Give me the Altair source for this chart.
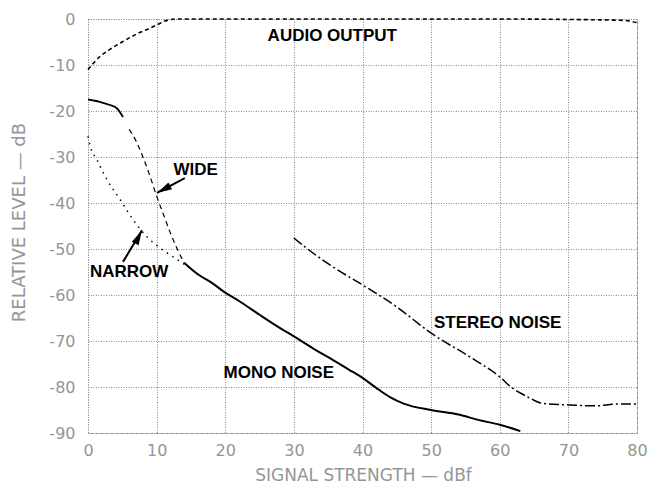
import altair as alt
import pandas as pd

# ---- data ----
audio_x = [0, 0.8, 1.7, 3.2, 5.1, 7.3, 9, 10, 11.5, 13, 20, 30, 40, 50, 60, 70, 78, 80]
audio_y = [-11, -9.6, -8.2, -6.6, -4.9, -3.1, -2, -1.3, -0.3, 0, 0, 0, 0, 0, 0, -0.1, -0.3, -0.8]

wide_solid_x = [0, 1.7, 3.2, 4.2, 5.1]
wide_solid_y = [-17.5, -18, -18.7, -19.4, -21.3]

wide_dash_x = [6, 7, 8, 9, 10, 11, 12, 13, 14]
wide_dash_y = [-24, -26.5, -30, -34, -38.5, -42.5, -46.5, -50, -53]

narrow_x = [0, 0.3, 1.3, 2.8, 4.7, 6.6, 8.5, 10.5, 12, 13.5, 15]
narrow_y = [-25.5, -27.5, -30.6, -35, -39.3, -43.7, -47.2, -49.8, -51.3, -52.8, -54.3]

mono_x = [14, 16, 18, 20, 22, 25, 28, 30, 33, 35, 38, 40, 42, 44, 46, 50, 54, 57, 60, 63]
mono_y = [-53, -55.5, -57.3, -59.5, -61.3, -64.3, -67.2, -69, -71.8, -73.5, -76.2, -78,
          -80.2, -82.2, -83.6, -85, -86, -87.2, -88.2, -89.6]

stereo_x = [30, 32, 35.7, 40, 45, 50, 55.7, 60, 61.8, 63, 64.5, 66, 70, 74, 77, 80]
stereo_y = [-47.6, -50, -53.9, -57.8, -62.6, -68.3, -73.5, -77.8, -80.2, -81.3, -82.5,
            -83.5, -83.9, -84.1, -83.7, -83.7]

label_text = ["AUDIO OUTPUT", "WIDE", "NARROW", "MONO NOISE", "STEREO NOISE"]
label_x = [35.6, 15.7, 6.0, 27.8, 59.7]
label_y = [-3.7, -32.8, -54.9, -77.0, -66.1]

# arrows: tail -> tip
wide_arrow_tail = (14.1, -34.6)
wide_arrow_tip = (10.05, -37.8)
narrow_arrow_tail = (5.1, -52.8)
narrow_arrow_tip = (7.87, -45.9)

x_ticks = [0, 10, 20, 30, 40, 50, 60, 70, 80]
y_ticks = [0, -10, -20, -30, -40, -50, -60, -70, -80, -90]

GRAY = "#959595"

def df(xs, ys):
    return pd.DataFrame({"x": xs, "y": ys})

xs = alt.Scale(domain=[0, 80], nice=False)
ys = alt.Scale(domain=[-90, 0], nice=False)

xenc = alt.X("x:Q", scale=xs, axis=alt.Axis(
    values=x_ticks, title="SIGNAL STRENGTH — dBf", grid=True, ticks=False, domain=False,
    labelPadding=9, labelFontSize=16, labelColor=GRAY, labelFont="DejaVu Sans",
    titleFontSize=17, titleColor=GRAY, titleFont="DejaVu Sans", titleFontWeight="normal",
    titleX=275, titleY=42, titleBaseline="middle", titleAlign="center",
    gridColor="#8a8a8a", gridDash=[1, 1.5], gridWidth=1, labelFlush=False))
yenc = alt.Y("y:Q", scale=ys, axis=alt.Axis(
    values=y_ticks, title="RELATIVE LEVEL — dB", grid=True, ticks=False, domain=False,
    labelPadding=13, labelFontSize=16, labelColor=GRAY, labelFont="DejaVu Sans",
    labelExpr="replace(datum.label, '\u2212', '-')",
    titleFontSize=18, titleColor=GRAY, titleFont="DejaVu Sans", titleFontWeight="normal",
    titleX=-69, titleY=203, titleBaseline="middle", titleAlign="center", titleAngle=-90,
    gridColor="#8a8a8a", gridDash=[1, 1.5], gridWidth=1, labelFlush=False))

def line(xv, yv, **kw):
    return alt.Chart(df(xv, yv)).mark_line(color="black", interpolate="monotone", **kw).encode(
        x=alt.X("x:Q", scale=xs), y=alt.Y("y:Q", scale=ys), order="x:Q")

base = alt.Chart(df(audio_x, audio_y)).mark_line(
    color="black", strokeWidth=1.6, strokeDash=[4, 3], interpolate="monotone").encode(
    x=xenc, y=yenc, order="x:Q")

wide_s = line(wide_solid_x, wide_solid_y, strokeWidth=1.8)
wide_d = line(wide_dash_x, wide_dash_y, strokeWidth=1.2, strokeDash=[5, 4])
narrow = line(narrow_x, narrow_y, strokeWidth=1.5, strokeDash=[1.5, 5])
mono = line(mono_x, mono_y, strokeWidth=2)
stereo = line(stereo_x, stereo_y, strokeWidth=1.5, strokeDash=[10, 3, 2, 3])

labels = alt.Chart(pd.DataFrame({"t": label_text, "x": label_x, "y": label_y})).mark_text(
    font="Liberation Sans", fontWeight="bold", fontSize=17, color="black",
    align="center", baseline="middle").encode(
    x=alt.X("x:Q", scale=xs), y=alt.Y("y:Q", scale=ys), text="t:N")

arrows_df = pd.DataFrame({
    "x": [wide_arrow_tail[0], narrow_arrow_tail[0]],
    "y": [wide_arrow_tail[1], narrow_arrow_tail[1]],
    "x2": [wide_arrow_tip[0], narrow_arrow_tip[0]],
    "y2": [wide_arrow_tip[1], narrow_arrow_tip[1]],
})
shafts = alt.Chart(arrows_df).mark_rule(color="black", strokeWidth=2).encode(
    x=alt.X("x:Q", scale=xs), y=alt.Y("y:Q", scale=ys), x2="x2:Q", y2="y2:Q")

HEAD = "M0,0L0.25,1L-0.25,1Z"
def head(tip, ang):
    return alt.Chart(pd.DataFrame({"x": [tip[0]], "y": [tip[1]]})).mark_point(
        shape=HEAD, filled=True, color="black", opacity=1, size=900, angle=ang,
        strokeWidth=0).encode(x=alt.X("x:Q", scale=xs), y=alt.Y("y:Q", scale=ys))

chart = alt.layer(
    base, wide_s, wide_d, narrow, mono, stereo, shafts,
    head(wide_arrow_tip, 242), head(narrow_arrow_tip, 27), labels
).properties(
    width=549, height=414,
    autosize=alt.AutoSizeParams(type="none"),
    padding={"left": 80, "top": 11, "right": 16, "bottom": 56},
    background="white",
).configure_view(stroke="#8a8a8a", strokeDash=[1, 1.5], strokeWidth=1)

chart.save("out.html", embed_options={"renderer": "svg", "actions": False})
